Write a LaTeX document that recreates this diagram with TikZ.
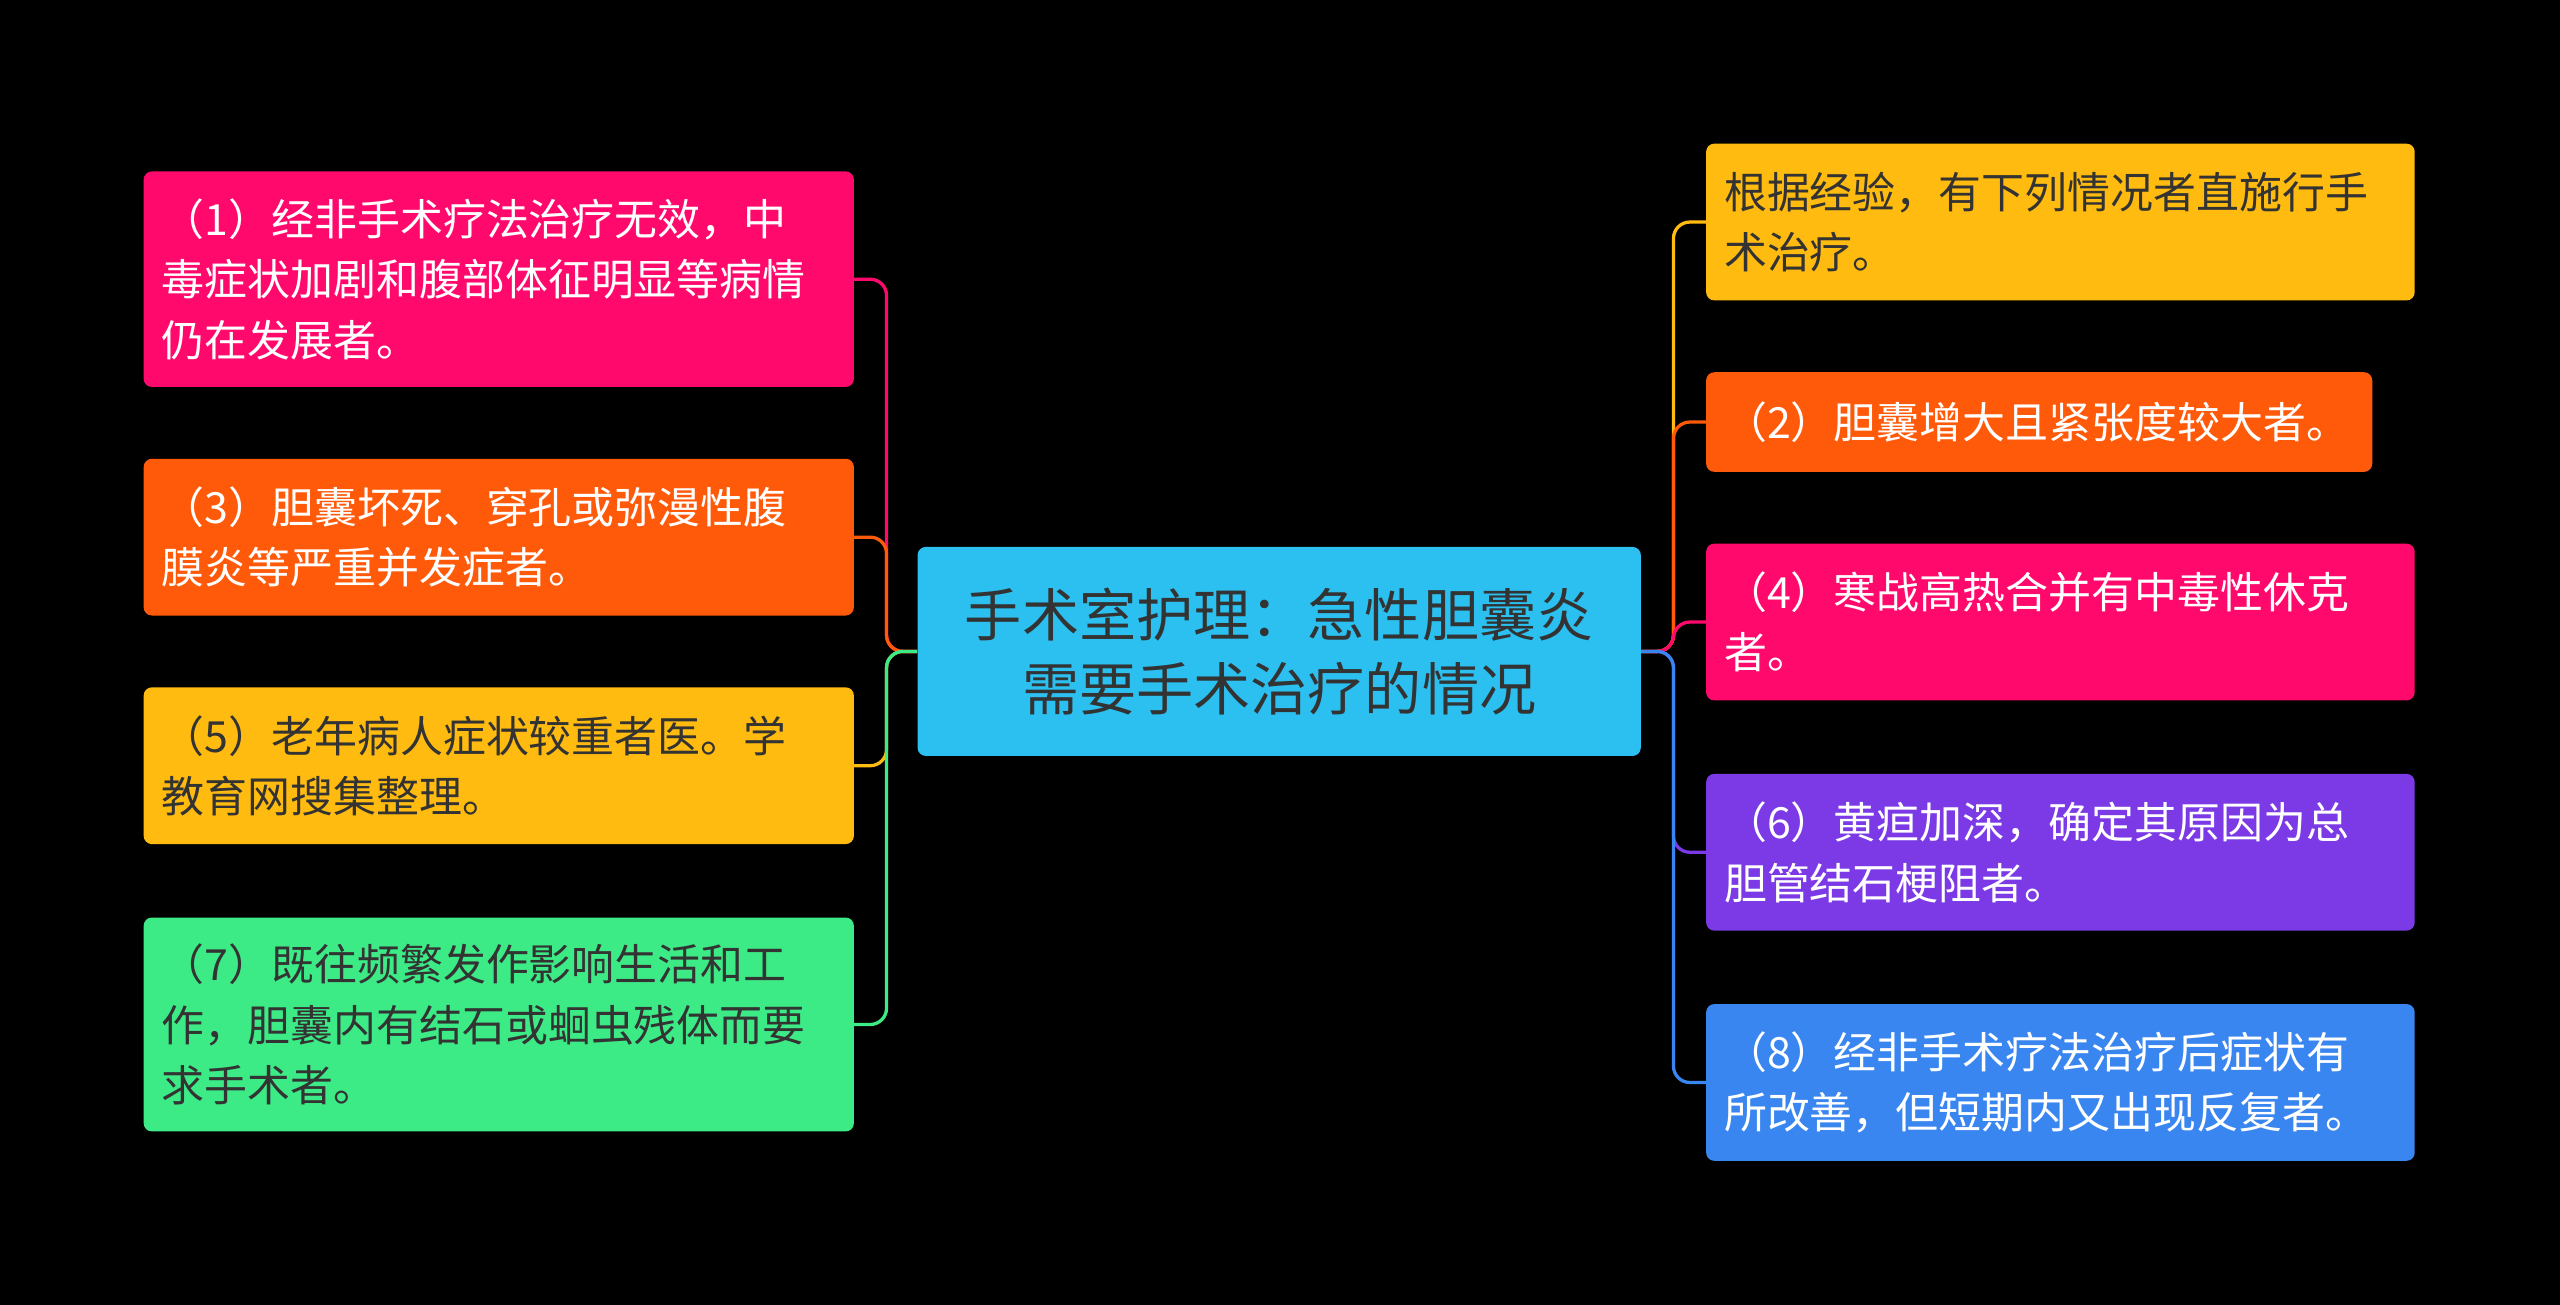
\documentclass[tikz,border=0pt]{standalone}
\usepackage{fontspec}
\setmainfont{Noto Sans CJK SC}
\begin{document}
\begin{tikzpicture}[x=1pt,y=-1pt,
 box/.style={rounded corners=5pt,inner sep=0pt,align=left,font=\fontsize{26.3}{37}\selectfont,text=white},
 ln/.style={line width=2pt,rounded corners=10pt}]
\definecolor{cmag}{HTML}{FF0A6C}\definecolor{corg}{HTML}{FF5A0A}\definecolor{cyel}{HTML}{FFBB0F}
\definecolor{cgrn}{HTML}{3DEB86}\definecolor{ccyan}{HTML}{2BC0F0}\definecolor{cpur}{HTML}{7B3AE6}
\definecolor{cblu}{HTML}{3A86F0}\definecolor{dark}{HTML}{333333}
\fill[black] (0,0) rectangle (1568,799);
\useasboundingbox (0,0) rectangle (1568,799);
\newcommand{\bx}[8]{\node[box,fill=#6,text=#7,minimum width=#3-#1,minimum height=#4-#2,text width=#3-#1-22] (#5) at ({(#1+#3)/2},{(#2+#4)/2}) {#8};}
\node[box,fill=ccyan,minimum width=443,minimum height=128,align=center,font=\fontsize{35}{45}\selectfont,text=dark] (c) at (783.5,399) {手术室护理：急性胆囊炎\\需要手术治疗的情况};
\bx{88}{105}{523}{237}{L1}{cmag}{white}{（1）经非手术疗法治疗无效，中\\毒症状加剧和腹部体征明显等病情\\仍在发展者。}
\bx{88}{281}{523}{377}{L3}{corg}{white}{（3）胆囊坏死、穿孔或弥漫性腹\\膜炎等严重并发症者。}
\bx{88}{421}{523}{517}{L5}{cyel}{dark}{（5）老年病人症状较重者医。学\\教育网搜集整理。}
\bx{88}{562}{523}{693}{L7}{cgrn}{dark}{（7）既往频繁发作影响生活和工\\作，胆囊内有结石或蛔虫残体而要\\求手术者。}
\bx{1045}{88}{1479}{184}{R0}{cyel}{dark}{根据经验，有下列情况者直施行手\\术治疗。}
\bx{1045}{228}{1453}{289}{R2}{corg}{white}{（2）胆囊增大且紧张度较大者。}
\bx{1045}{333}{1479}{429}{R4}{cmag}{white}{（4）寒战高热合并有中毒性休克\\者。}
\bx{1045}{474}{1479}{570}{R6}{cpur}{white}{（6）黄疸加深，确定其原因为总\\胆管结石梗阻者。}
\bx{1045}{615}{1479}{711}{R8}{cblu}{white}{（8）经非手术疗法治疗后症状有\\所改善，但短期内又出现反复者。}
\coordinate (cl) at (543,399); \coordinate (cr) at (1025,399);
\foreach \n/\col in {L1/cmag,L3/corg,L5/cyel,L7/cgrn}
  \draw[ln,\col] (c.west) -- (cl) |- (\n.east);
\foreach \n/\col in {R0/cyel,R2/corg,R4/cmag,R6/cpur,R8/cblu}
  \draw[ln,\col] (c.east) -- (cr) |- (\n.west);
\end{tikzpicture}
\end{document}
